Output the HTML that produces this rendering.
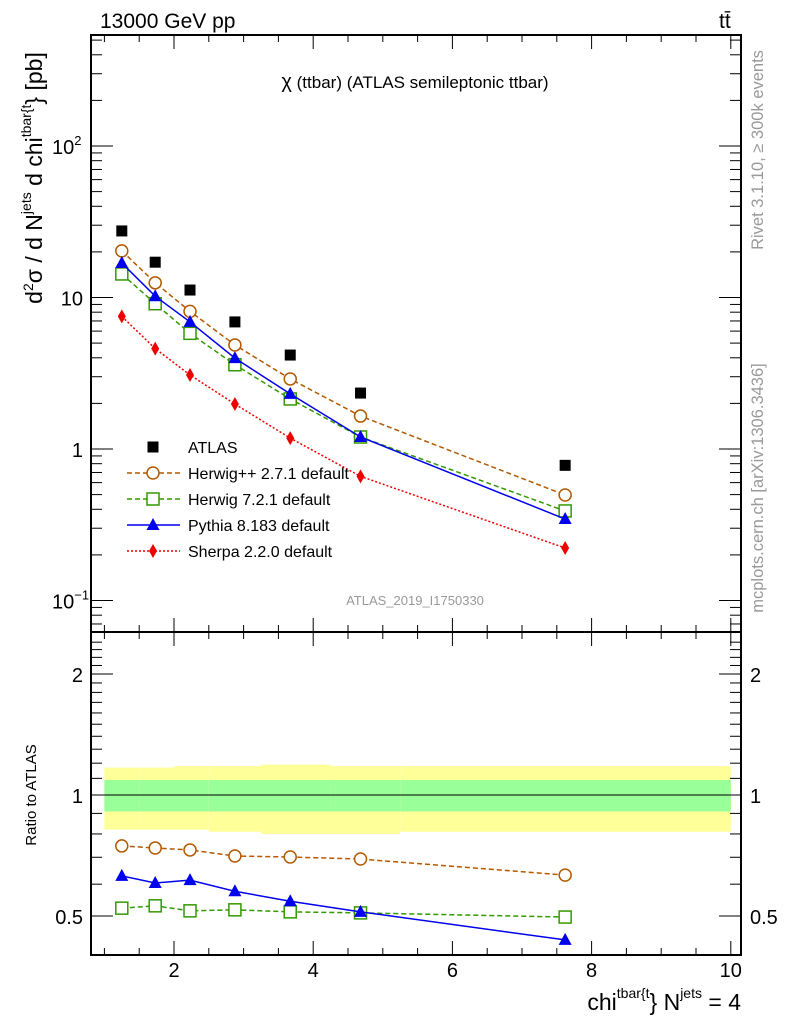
<!DOCTYPE html>
<html><head><meta charset="utf-8"><style>
body{margin:0;background:#fff;}
svg{display:block;font-family:"Liberation Sans",sans-serif;}
</style></head><body>
<svg id="chart" width="786" height="1024" viewBox="0 0 786 1024">
<g id="bands"></g>
<g id="axes"></g>
<g id="series"></g>
<text x="100" y="28" font-size="21">13000 GeV pp</text>
<text x="719" y="28" font-size="21">tt̄</text>
<text x="415" y="88" font-size="17" text-anchor="middle"><tspan font-size="20">χ</tspan> (ttbar) (ATLAS semileptonic ttbar)</text>
<text x="415" y="605" font-size="13" fill="#999" text-anchor="middle">ATLAS_2019_I1750330</text>
<text transform="translate(763,150) rotate(-90)" font-size="16.5" fill="#999" text-anchor="middle">Rivet 3.1.10, ≥ 300k events</text>
<text transform="translate(763,488) rotate(-90)" font-size="16.5" fill="#999" text-anchor="middle">mcplots.cern.ch [arXiv:1306.3436]</text>
<text transform="translate(42,178) rotate(-90)" font-size="23" text-anchor="middle">d<tspan font-size="14" dy="-9">2</tspan><tspan dy="9">σ / d N</tspan><tspan font-size="14" dy="-11">jets</tspan><tspan dy="11"> d chi</tspan><tspan font-size="14" dy="-11">tbar{t</tspan><tspan dy="11">} [pb]</tspan></text>
<text transform="translate(36,795) rotate(-90)" font-size="15" text-anchor="middle">Ratio to ATLAS</text>
<text x="741" y="1010" font-size="23" text-anchor="end">chi<tspan font-size="14" dy="-12">tbar{t</tspan><tspan dy="12">} N</tspan><tspan font-size="14" dy="-12">jets</tspan><tspan dy="12"> = 4</tspan></text>
<g id="legend"></g>
</svg>
<script>
const xs = [1.25, 1.73, 2.23, 2.875, 3.67, 4.68, 7.62];
const binEdges = [1.0, 1.5, 2.0, 2.5, 3.25, 4.25, 5.25, 10.0];
const atlas = [27.5, 17.1, 11.2, 6.9, 4.17, 2.34, 0.78];
const herwigpp = [20.3, 12.5, 8.1, 4.86, 2.9, 1.65, 0.497];
const herwig7 = [14.3, 9.1, 5.8, 3.6, 2.14, 1.2, 0.39];
const pythia = [16.9, 10.2, 6.9, 3.98, 2.31, 1.2, 0.345];
const sherpa = [7.5, 4.6, 3.08, 1.98, 1.18, 0.66, 0.222];
const ratioHerwigpp = [0.747, 0.738, 0.730, 0.705, 0.701, 0.693, 0.632];
const ratioHerwig7 = [0.523, 0.530, 0.515, 0.518, 0.512, 0.509, 0.497];
const ratioPythia = [0.629, 0.604, 0.614, 0.576, 0.544, 0.512, 0.436];
const bandStatHi = [1.09, 1.09, 1.09, 1.09, 1.09, 1.09, 1.09];
const bandStatLo = [0.91, 0.91, 0.91, 0.91, 0.91, 0.91, 0.91];
const bandTotHi = [1.17, 1.17, 1.18, 1.18, 1.19, 1.18, 1.18];
const bandTotLo = [0.82, 0.82, 0.82, 0.81, 0.80, 0.80, 0.81];
const xTicks = [2, 4, 6, 8, 10];
const ratioTicks = [0.5, 1, 2];

const NS = "http://www.w3.org/2000/svg";
const L = 91, R = 741, T = 35, MB = 632, B = 955;
const X = v => 174 + (v - 2) * 69.6;
const Y = v => 449 - 151.5 * Math.log10(v);
const RY = v => 795 - 121 * Math.log2(v);
function mk(tag, attrs, parent) {
  const e = document.createElementNS(NS, tag);
  for (const k in attrs) e.setAttribute(k, attrs[k]);
  parent.appendChild(e);
  return e;
}
const axes = document.getElementById('axes');
const bands = document.getElementById('bands');
const ser = document.getElementById('series');

for (let i = 0; i < xs.length; i++) {
  const x0 = X(binEdges[i]), x1 = X(binEdges[i + 1]);
  const y = mk('rect', {x: x0, y: RY(bandTotHi[i]), width: x1 - x0, height: RY(bandTotLo[i]) - RY(bandTotHi[i]), fill: '#ffff99'}, bands);
  
  
  const g = mk('rect', {x: x0, y: RY(bandStatHi[i]), width: x1 - x0, height: RY(bandStatLo[i]) - RY(bandStatHi[i]), fill: '#99ff99'}, bands);
  
  
}
const one = mk('line', {x1: X(1), x2: X(10), y1: RY(1), y2: RY(1), stroke: '#000', 'stroke-width': 1}, bands);



for (const [y0, y1, nm] of [[T, MB, 'main-frame'], [MB, B, 'ratio-frame']]) {
  const f = mk('rect', {x: L, y: y0, width: R - L, height: y1 - y0, fill: 'none', stroke: '#000', 'stroke-width': 2}, axes);
  
  
}
for (let v = 1; v <= 10.01; v += 0.5) {
  const major = Math.abs(v - Math.round(v / 2) * 2) < 0.01;
  const len = major ? 14 : 7;
  const x = X(v);
  for (const [yb, dir] of [[T, 1], [MB, -1], [MB, 1], [B, -1]]) {
    mk('line', {x1: x, x2: x, y1: yb, y2: yb + dir * len, stroke: '#000', 'stroke-width': 1}, axes);
  }
}
xTicks.forEach(v => {
  const t = mk('text', {x: X(v), y: 977, 'font-size': 20, 'text-anchor': 'middle'}, axes);
  t.textContent = v;
  
  
});
for (let d = -2; d <= 2; d++) {
  for (let m = 1; m <= 9; m++) {
    const v = m * Math.pow(10, d);
    const y = Y(v);
    if (y < T || y > MB) continue;
    const len = m === 1 ? 22 : 11;
    mk('line', {x1: L, x2: L + len, y1: y, y2: y, stroke: '#000', 'stroke-width': 1}, axes);
    mk('line', {x1: R, x2: R - len, y1: y, y2: y, stroke: '#000', 'stroke-width': 1}, axes);
  }
}
const yl = [[100, '10<tspan font-size="13" dy="-9">2</tspan>'], [10, '10'], [1, '1'], [0.1, '10<tspan font-size="13" dy="-9">−1</tspan>']];
yl.forEach(([v, s]) => {
  const t = mk('text', {x: v === 100 || v === 0.1 ? 52 : 83, y: Y(v) + 8, 'font-size': 20, 'text-anchor': v === 100 || v === 0.1 ? 'start' : 'end'}, axes);
  t.innerHTML = s;
  
  
});
for (let v = 0.4; v <= 2.5; v += 0.1) {
  const y = RY(v);
  if (y < MB || y > B) continue;
  const major = [0.5, 1, 2].some(m => Math.abs(m - v) < 0.01);
  const len = major ? 22 : 11;
  mk('line', {x1: L, x2: L + len, y1: y, y2: y, stroke: '#000', 'stroke-width': 1}, axes);
  mk('line', {x1: R, x2: R - len, y1: y, y2: y, stroke: '#000', 'stroke-width': 1}, axes);
}
ratioTicks.forEach(v => {
  for (const [x, a] of [[83, 'end'], [750, 'start']]) {
    const t = mk('text', {x: x, y: RY(v) + 8, 'font-size': 20, 'text-anchor': a}, axes);
    t.textContent = v;
    
    
  }
});

function marker(type, x, y, col, parent) {
  let e;
  if (type === 'sq') e = mk('rect', {x: x - 5.5, y: y - 5.5, width: 11, height: 11, fill: '#000'}, parent);
  else if (type === 'circ') e = mk('circle', {cx: x, cy: y, r: 6, fill: '#fff', stroke: col, 'stroke-width': 1.5}, parent);
  else if (type === 'osq') e = mk('rect', {x: x - 6, y: y - 6, width: 12, height: 12, fill: '#fff', stroke: col, 'stroke-width': 1.5}, parent);
  else if (type === 'tri') e = mk('polygon', {points: `${x},${y - 7} ${x - 6.5},${y + 5} ${x + 6.5},${y + 5}`, fill: col}, parent);
  else e = mk('polygon', {points: `${x},${y - 7} ${x - 4},${y} ${x},${y + 7} ${x + 4},${y}`, fill: col}, parent);
  return e;
}
function series(vals, yf, type, col, dash, name) {
  const g = mk('g', {}, ser);
  
  
  if (dash !== null) {
    const p = vals.map((v, i) => `${X(xs[i])},${yf(v)}`).join(' ');
    mk('polyline', {points: p, fill: 'none', stroke: col, 'stroke-width': 1.5, 'stroke-dasharray': dash}, g);
  }
  vals.forEach((v, i) => {
    const m = marker(type, X(xs[i]), yf(v), col, g);
    
    
  });
}
series(herwigpp, Y, 'circ', '#b35900', '5,3', 'herwigpp-series');
series(herwig7, Y, 'osq', '#339900', '5,3', 'herwig7-series');
series(pythia, Y, 'tri', '#0000ee', '', 'pythia-series');
series(sherpa, Y, 'dia', '#ee0000', '2,2', 'sherpa-series');
series(atlas, Y, 'sq', '#000', null, 'atlas-data');
series(ratioHerwigpp, RY, 'circ', '#b35900', '5,3', 'ratio-herwigpp-series');
series(ratioHerwig7, RY, 'osq', '#339900', '5,3', 'ratio-herwig7-series');
series(ratioPythia, RY, 'tri', '#0000ee', '', 'ratio-pythia-series');

const leg = document.getElementById('legend');
const entries = [['sq', '#000', null, 'ATLAS'], ['circ', '#b35900', '5,3', 'Herwig++ 2.7.1 default'], ['osq', '#339900', '5,3', 'Herwig 7.2.1 default'], ['tri', '#0000ee', '', 'Pythia 8.183 default'], ['dia', '#ee0000', '2,2', 'Sherpa 2.2.0 default']];
entries.forEach((e, i) => {
  const y = 447 + i * 26;
  const g = mk('g', {}, leg);
  
  
  if (e[2] !== null) mk('line', {x1: 127, x2: 180, y1: y, y2: y, stroke: e[1], 'stroke-width': 1.5, 'stroke-dasharray': e[2]}, g);
  marker(e[0], 153, y, e[1], g);
  const t = mk('text', {x: 188, y: y + 6, 'font-size': 16}, g);
  t.textContent = e[3];
});
</script>
</body></html>
